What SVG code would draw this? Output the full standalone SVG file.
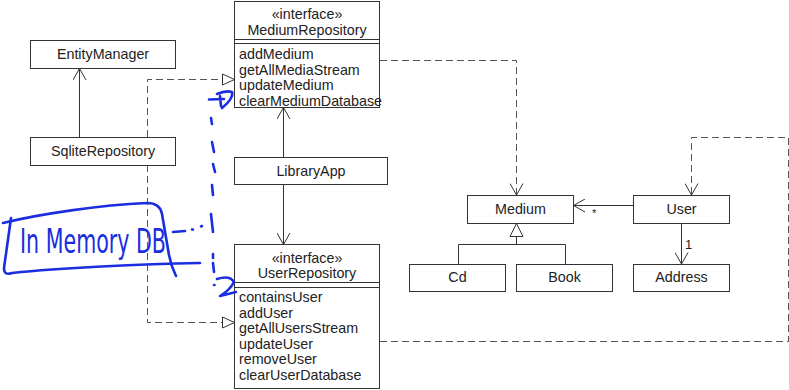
<svg xmlns="http://www.w3.org/2000/svg" width="789" height="390" viewBox="0 0 789 390">
  <style>
    .box { fill: #fff; stroke: #333; stroke-width: 1; }
    .sep { stroke: #333; stroke-width: 1; }
    .lbl { font-family: "Liberation Sans", Arial, sans-serif; font-size: 14.3px; fill: #222; }
    .mid { text-anchor: middle; }
    .solid { fill: none; stroke: #333; stroke-width: 1; }
    .dash { fill: none; stroke: #555; stroke-width: 1; stroke-dasharray: 7 4; }
    .ink { fill: none; stroke: #1a2ee0; stroke-width: 2.6; stroke-linecap: round; stroke-linejoin: round; }
  </style>
  <defs>
    <marker id="open" viewBox="0 0 14 14" refX="12.5" refY="7" markerWidth="14" markerHeight="14" orient="auto" markerUnits="userSpaceOnUse">
      <path d="M1,0.5 L12.5,7 L1,13.5" fill="none" stroke="#333" stroke-width="1"/>
    </marker>
    <marker id="realize" viewBox="0 0 14 14" refX="12.5" refY="7" markerWidth="14" markerHeight="14" orient="auto" markerUnits="userSpaceOnUse">
      <path d="M0.5,1.5 L12.5,7 L0.5,12.5 Z" fill="#fff" stroke="#333" stroke-width="1"/>
    </marker>
    <marker id="inherit" viewBox="0 0 16 16" refX="14" refY="8" markerWidth="16" markerHeight="16" orient="auto" markerUnits="userSpaceOnUse">
      <path d="M1,1.5 L14,8 L1,14.5 Z" fill="#fff" stroke="#333" stroke-width="1"/>
    </marker>
  </defs>

  <!-- connectors -->
  <g id="connectors">
    <path class="solid" d="M79.5,137 V68.5" marker-end="url(#open)"/>
    <path class="solid" d="M283.5,157 V107.5" marker-end="url(#open)"/>
    <path class="solid" d="M283.5,184 V244.5" marker-end="url(#open)"/>
    <path class="dash" d="M147.5,137 V79.5 H234.5" marker-end="url(#realize)"/>
    <path class="dash" d="M147.5,165 V322.5 H234.5" marker-end="url(#realize)"/>
    <path class="dash" d="M380,60.5 H516.5 V195" marker-end="url(#open)"/>
    <path class="dash" d="M380,341.5 H788.5 V137.5 H691.5 V195" marker-end="url(#open)"/>
    <path class="solid" d="M633,205.5 H573.5" marker-end="url(#open)"/>
    <text class="lbl" x="592" y="217" style="font-size:11px">*</text>
    <path class="solid" d="M681.5,223 V264" marker-end="url(#open)"/>
    <text class="lbl" x="685" y="249" style="font-size:13px">1</text>
    <path class="solid" d="M516.5,244.5 V223.5" marker-end="url(#inherit)"/>
    <path class="solid" d="M458.5,264 V244.5 H565.5 V264"/>
  </g>

  <g id="EntityManager">
    <rect class="box" x="30.5" y="40.5" width="145" height="28"/>
    <text class="lbl mid" x="103" y="59">EntityManager</text>
  </g>

  <g id="SqliteRepository">
    <rect class="box" x="30.5" y="137.5" width="145" height="28"/>
    <text class="lbl mid" x="103" y="156">SqliteRepository</text>
  </g>

  <g id="MediumRepository">
    <rect class="box" x="234.5" y="1.5" width="145" height="106"/>
    <text class="lbl mid" x="307" y="19">«interface»</text>
    <text class="lbl mid" x="307" y="35">MediumRepository</text>
    <line class="sep" x1="234.5" y1="39.5" x2="379.5" y2="39.5"/>
    <line class="sep" x1="234.5" y1="43.5" x2="379.5" y2="43.5"/>
    <text class="lbl" x="239" y="59">addMedium</text>
    <text class="lbl" x="239" y="74.5">getAllMediaStream</text>
    <text class="lbl" x="239" y="90">updateMedium</text>
    <text class="lbl" x="239" y="105.5">clearMediumDatabase</text>
  </g>

  <g id="LibraryApp">
    <rect class="box" x="234.5" y="157.5" width="153" height="27"/>
    <text class="lbl mid" x="311" y="175.5">LibraryApp</text>
  </g>

  <g id="UserRepository">
    <rect class="box" x="234.5" y="244.5" width="145" height="144"/>
    <text class="lbl mid" x="307" y="263">«interface»</text>
    <text class="lbl mid" x="307" y="277.5">UserRepository</text>
    <line class="sep" x1="234.5" y1="282.5" x2="379.5" y2="282.5"/>
    <line class="sep" x1="234.5" y1="287.5" x2="379.5" y2="287.5"/>
    <text class="lbl" x="239" y="302">containsUser</text>
    <text class="lbl" x="239" y="317.5">addUser</text>
    <text class="lbl" x="239" y="333">getAllUsersStream</text>
    <text class="lbl" x="239" y="348.5">updateUser</text>
    <text class="lbl" x="239" y="364">removeUser</text>
    <text class="lbl" x="239" y="379.5">clearUserDatabase</text>
  </g>

  <g id="Medium">
    <rect class="box" x="467.5" y="195.5" width="106" height="28"/>
    <text class="lbl mid" x="520.5" y="213.5">Medium</text>
  </g>

  <g id="User">
    <rect class="box" x="633.5" y="195.5" width="96" height="28"/>
    <text class="lbl mid" x="681.5" y="213.5">User</text>
  </g>

  <g id="Cd">
    <rect class="box" x="409.5" y="264.5" width="96" height="27"/>
    <text class="lbl mid" x="457.5" y="282">Cd</text>
  </g>

  <g id="Book">
    <rect class="box" x="516.5" y="264.5" width="96" height="27"/>
    <text class="lbl mid" x="564.5" y="282">Book</text>
  </g>

  <g id="Address">
    <rect class="box" x="633.5" y="264.5" width="96" height="27"/>
    <text class="lbl mid" x="681.5" y="282">Address</text>
  </g>

  <!-- hand-drawn note -->
  <g id="InMemoryDB">
    <path class="ink" d="M3,223 C40,214 100,205 147,203 Q160,203 162,214 L169,255 Q171,266 176,276"/>
    <path class="ink" d="M11,218 L4,268 Q4,276 12,273 C60,268 140,264 200,263"/>
    <text x="20" y="253" textLength="146" lengthAdjust="spacingAndGlyphs" style="font-family:'DejaVu Sans', sans-serif; font-size:33px; fill:#1a2ee0">In Memory DB</text>
    <path class="ink" d="M173,232 L185,231 M192,229.5 L193,229.5 M201,226.5 L202,226"/>
    <path class="ink" d="M211,118 L212,124 M212,142 L214,152 M213,164 L215,172 M212,185 L213,195 M211,214 L213,232 M213,254 L213,258 M213,263 L214,272"/>
    <path class="ink" d="M209,99.5 L224,99 M217,94 Q226,90 232,92 Q234,98 222,108 M220,96 L221,106"/>
    <path class="ink" d="M217,279 Q230,275 234,282 Q230,290 220,296 L236,292 M214,285 L214.5,285"/>
  </g>
</svg>
